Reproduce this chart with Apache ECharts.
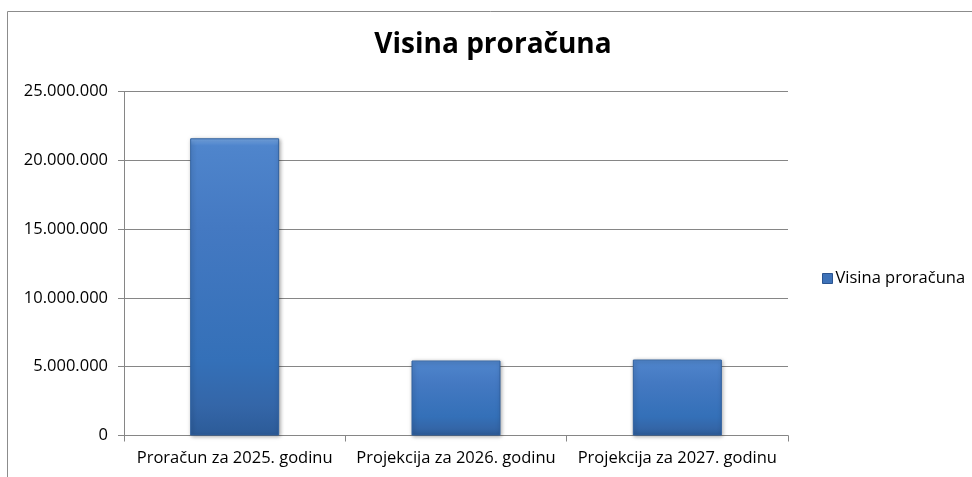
<!DOCTYPE html>
<html>
<head>
<meta charset="utf-8">
<script src="https://cdn.jsdelivr.net/npm/echarts@6/dist/echarts.min.js"></script>
<style>
html,body{margin:0;padding:0;background:#fff;}
#chart{width:972px;height:477px;}
</style>
</head>
<body>
<div id="chart"></div>
<script>
const categories = ['Proračun za 2025. godinu', 'Projekcija za 2026. godinu', 'Projekcija za 2027. godinu'];
const values = [21600000, 5450000, 5520000];
const seriesName = 'Visina proračuna';
const chartTitle = 'Visina proračuna';

function fmt(v) {
  return String(Math.round(v)).replace(/\B(?=(\d{3})+(?!\d))/g, '.');
}

const chart = echarts.init(document.getElementById('chart'));
const font = 'Open Sans, Noto Sans, sans-serif';
const barColor = {
  type: 'linear', x: 0, y: 0, x2: 0, y2: 1,
  colorStops: [
    { offset: 0, color: '#78a9e6' },
    { offset: 0.025, color: '#4f85cc' },
    { offset: 0.3, color: '#4479c2' },
    { offset: 0.75, color: '#3470b8' },
    { offset: 0.9, color: '#3466a8' },
    { offset: 1, color: '#2c5b98' }
  ]
};
chart.setOption({
  animation: false,
  title: {
    text: chartTitle,
    left: 488, top: 26, textAlign: 'center',
    textStyle: { fontFamily: font, fontSize: 28, fontWeight: 'bold', color: '#000' }
  },
  legend: {
    left: 817, top: 265, orient: 'vertical',
    itemWidth: 10, itemHeight: 10, itemGap: 4,
    icon: 'rect',
    textStyle: { fontFamily: font, fontSize: 16.5, color: '#000', padding: [0, 0, 0, -2] },
    data: [{ name: seriesName, itemStyle: { color: '#3e72b8', borderColor: '#2b5490', borderWidth: 1 } }]
  },
  grid: { left: 124, right: 184, top: 91.5, bottom: 41.5, containLabel: false },
  graphic: [{
    type: 'rect', silent: true,
    shape: { x: 7.5, y: 11.5, width: 1000, height: 500 },
    style: { fill: 'none', stroke: '#8c8c8c', lineWidth: 1 }
  }],
  xAxis: {
    type: 'category',
    data: categories,
    axisLine: { lineStyle: { color: '#868686', width: 1 } },
    axisTick: { show: true, alignWithLabel: false, length: 6, lineStyle: { color: '#868686' } },
    axisLabel: { fontFamily: font, fontSize: 16.5, color: '#000', margin: 14, interval: 0 }
  },
  yAxis: {
    type: 'value',
    min: 0, max: 25000000, interval: 5000000,
    axisLine: { show: true, lineStyle: { color: '#868686', width: 1 } },
    axisTick: { show: true, length: 6, lineStyle: { color: '#868686' } },
    splitLine: { show: true, lineStyle: { color: '#868686', width: 1 } },
    axisLabel: { fontFamily: font, fontSize: 16.5, color: '#000', margin: 16, formatter: fmt }
  },
  series: [{
    name: seriesName,
    type: 'bar',
    data: values,
    barWidth: 89,
    itemStyle: {
      color: barColor,
      borderColor: '#30609e',
      borderWidth: 1,
      shadowColor: 'rgba(0,0,0,0.35)',
      shadowBlur: 4,
      shadowOffsetX: 1,
      shadowOffsetY: 1
    }
  }]
});
</script>
</body>
</html>
